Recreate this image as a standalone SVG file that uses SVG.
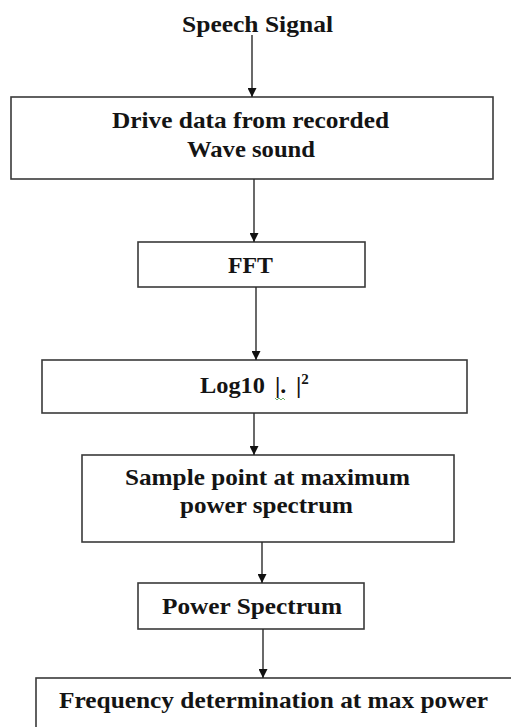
<svg xmlns="http://www.w3.org/2000/svg" width="511" height="727" viewBox="0 0 511 727">
<style>
.box{fill:#fff;stroke:#3a3a3a;stroke-width:1.6}
.t{font-family:"Liberation Serif","Times New Roman",serif;font-weight:bold;font-size:24px;fill:#141414}
.c{stroke:#2a2a2a;stroke-width:1.4;fill:none}
</style>
<defs>
<marker id="ah" viewBox="0 0 10 10" refX="10" refY="5" markerWidth="10" markerHeight="9" markerUnits="userSpaceOnUse" orient="auto">
<path d="M0,0 L10,5 L0,10 Z" fill="#111"/>
</marker>
</defs>
<rect width="511" height="727" fill="#fff"/>
<g id="speech">
<text class="t" x="182" y="32" textLength="151" lengthAdjust="spacingAndGlyphs">Speech  Signal</text>
</g>
<g id="drive">
<rect class="box" x="11" y="97" width="482" height="82"/>
<text class="t" x="112" y="128" textLength="277" lengthAdjust="spacingAndGlyphs">Drive data from recorded</text>
<text class="t" x="187" y="157" textLength="128" lengthAdjust="spacingAndGlyphs">Wave sound</text>
</g>
<g id="fft">
<rect class="box" x="138" y="242" width="227" height="45"/>
<text class="t" x="228" y="273" textLength="45" lengthAdjust="spacingAndGlyphs">FFT</text>
</g>
<g id="log">
<rect class="box" x="42" y="360" width="425" height="53"/>
<text class="t" x="200" y="393"><tspan textLength="65" lengthAdjust="spacingAndGlyphs">Log10</tspan><tspan x="275">|.</tspan><tspan x="296">|</tspan><tspan font-size="15" dy="-9">2</tspan></text>
<path d="M275,398 l2,2 l2,-2 l2,2 l2,-2 l2,2" stroke="#4a9a4a" stroke-width="0.8" fill="none"/>
</g>
<g id="sample">
<rect class="box" x="82" y="455" width="372" height="87"/>
<text class="t" x="125" y="485" textLength="285" lengthAdjust="spacingAndGlyphs">Sample point at maximum</text>
<text class="t" x="180" y="513" textLength="173" lengthAdjust="spacingAndGlyphs">power spectrum</text>
</g>
<g id="power">
<rect class="box" x="138" y="583" width="226" height="46"/>
<text class="t" x="162" y="614" textLength="180" lengthAdjust="spacingAndGlyphs">Power Spectrum</text>
</g>
<g id="freq">
<rect class="box" x="36" y="678" width="490" height="70"/>
<text class="t" x="59" y="708" textLength="429" lengthAdjust="spacingAndGlyphs">Frequency determination at max power</text>
</g>
<g id="connectors">
<line class="c" x1="252" y1="35" x2="252" y2="97" marker-end="url(#ah)"/>
<line class="c" x1="254" y1="179" x2="254" y2="242" marker-end="url(#ah)"/>
<line class="c" x1="256" y1="287" x2="256" y2="360" marker-end="url(#ah)"/>
<line class="c" x1="254" y1="413" x2="254" y2="455" marker-end="url(#ah)"/>
<line class="c" x1="262" y1="542" x2="262" y2="583" marker-end="url(#ah)"/>
<line class="c" x1="263" y1="629" x2="263" y2="678" marker-end="url(#ah)"/>
</g>
</svg>
